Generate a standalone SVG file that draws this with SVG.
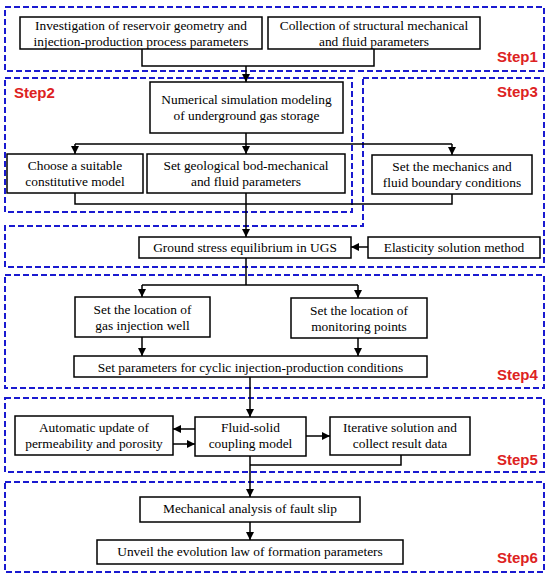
<svg xmlns="http://www.w3.org/2000/svg" width="550" height="580" viewBox="0 0 550 580">
<defs>
<marker id="ah" markerUnits="userSpaceOnUse" markerWidth="9" markerHeight="8" refX="8" refY="4" orient="auto">
<path d="M0,0 L8,4 L0,8 z" fill="#000"/>
</marker>
<style>
.step{fill:none;stroke:#1a1ad0;stroke-width:2;stroke-dasharray:6,3}
.box{fill:#fff;stroke:#000;stroke-width:1.5}
.t{font-family:"Liberation Serif","Times New Roman",serif;font-size:13.4px;fill:#000;text-anchor:middle}
.lbl{font-family:"Liberation Sans",Arial,sans-serif;font-size:15px;font-weight:bold;fill:#dd2222}
.c{fill:none;stroke:#000;stroke-width:1.5}
.a{fill:none;stroke:#000;stroke-width:1.5;marker-end:url(#ah)}
</style>
</defs>
<rect width="550" height="580" fill="#fff"/>
<g id="steps">
<rect class="step" x="5" y="7" width="539" height="64"/>
<rect class="step" x="5" y="78" width="347" height="134"/>
<path class="step" d="M363,78 H544 V267 H5 V226 H363 Z"/>
<rect class="step" x="5" y="275" width="539" height="113"/>
<rect class="step" x="5" y="398" width="539" height="74"/>
<rect class="step" x="5" y="482" width="539" height="90"/>
<text class="lbl" x="497" y="62">Step1</text>
<text class="lbl" x="14" y="98">Step2</text>
<text class="lbl" x="497" y="97">Step3</text>
<text class="lbl" x="497" y="380">Step4</text>
<text class="lbl" x="497" y="465">Step5</text>
<text class="lbl" x="497" y="563">Step6</text>
</g>
<g id="connectors">
<path class="c" d="M142,49 V66 H374 V49"/>
<path class="a" d="M246,66 V82"/>
<path class="c" d="M246,133 V144 M75,144 H452"/>
<path class="a" d="M75,144 V154"/>
<path class="a" d="M246,144 V154"/>
<path class="a" d="M452,144 V155"/>
<path class="c" d="M75,193 V204 H452 V194"/>
<path class="a" d="M246,193 V237"/>
<path class="a" d="M368,247 H351"/>
<path class="c" d="M246,258 V285 M142,285 H358"/>
<path class="a" d="M142,285 V297"/>
<path class="a" d="M358,285 V298"/>
<path class="a" d="M142,337 V356"/>
<path class="a" d="M358,338 V356"/>
<path class="a" d="M250,377 V417"/>
<path class="a" d="M195,429 H173"/>
<path class="a" d="M173,444 H195"/>
<path class="a" d="M306,436 H330"/>
<path class="c" d="M401,455 V465 H250"/>
<path class="a" d="M250,456 V497"/>
<path class="a" d="M250,522 V540"/>
</g>
<g id="n1"><rect class="box" x="20" y="17" width="242" height="32"/><text class="t" x="141" y="29.5">Investigation of reservoir geometry and</text><text class="t" x="141" y="45.5">injection-production process parameters</text></g>
<g id="n2"><rect class="box" x="268" y="17" width="212" height="32"/><text class="t" x="374" y="29.5">Collection of structural mechanical</text><text class="t" x="374" y="45.5">and fluid parameters</text></g>
<g id="n3"><rect class="box" x="150" y="82" width="193" height="51"/><text class="t" x="246.5" y="104">Numerical simulation modeling</text><text class="t" x="246.5" y="120">of underground gas storage</text></g>
<g id="n4"><rect class="box" x="7" y="154" width="136" height="39"/><text class="t" x="75" y="170">Choose a suitable</text><text class="t" x="75" y="186">constitutive model</text></g>
<g id="n5"><rect class="box" x="147" y="154" width="198" height="39"/><text class="t" x="246" y="170">Set geological bod-mechanical</text><text class="t" x="246" y="186">and fluid parameters</text></g>
<g id="n6"><rect class="box" x="372" y="155" width="160" height="39"/><text class="t" x="452" y="171">Set the mechanics and</text><text class="t" x="452" y="187">fluid boundary conditions</text></g>
<g id="n7"><rect class="box" x="139" y="237" width="212" height="21"/><text class="t" x="245" y="252">Ground stress equilibrium in UGS</text></g>
<g id="n8"><rect class="box" x="368" y="237" width="172" height="21"/><text class="t" x="454" y="252">Elasticity solution method</text></g>
<g id="n9"><rect class="box" x="75" y="297" width="135" height="40"/><text class="t" x="142.5" y="314">Set the location of</text><text class="t" x="142.5" y="330">gas injection well</text></g>
<g id="n10"><rect class="box" x="291" y="298" width="136" height="40"/><text class="t" x="359" y="315">Set the location of</text><text class="t" x="359" y="331">monitoring points</text></g>
<g id="n11"><rect class="box" x="74" y="356" width="353" height="21"/><text class="t" x="250.5" y="372">Set parameters for cyclic injection-production conditions</text></g>
<g id="n12"><rect class="box" x="15" y="416" width="158" height="39"/><text class="t" x="94" y="432">Automatic update of</text><text class="t" x="94" y="448">permeability and porosity</text></g>
<g id="n13"><rect class="box" x="195" y="417" width="111" height="39"/><text class="t" x="250.5" y="432">Fluid-solid</text><text class="t" x="250.5" y="448">coupling model</text></g>
<g id="n14"><rect class="box" x="330" y="417" width="140" height="38"/><text class="t" x="400" y="432">Iterative solution and</text><text class="t" x="400" y="448">collect result data</text></g>
<g id="n15"><rect class="box" x="140" y="497" width="220" height="25"/><text class="t" x="250" y="513">Mechanical analysis of fault slip</text></g>
<g id="n16"><rect class="box" x="97" y="540" width="306" height="24"/><text class="t" x="250" y="556">Unveil the evolution law of formation parameters</text></g>
</svg>
